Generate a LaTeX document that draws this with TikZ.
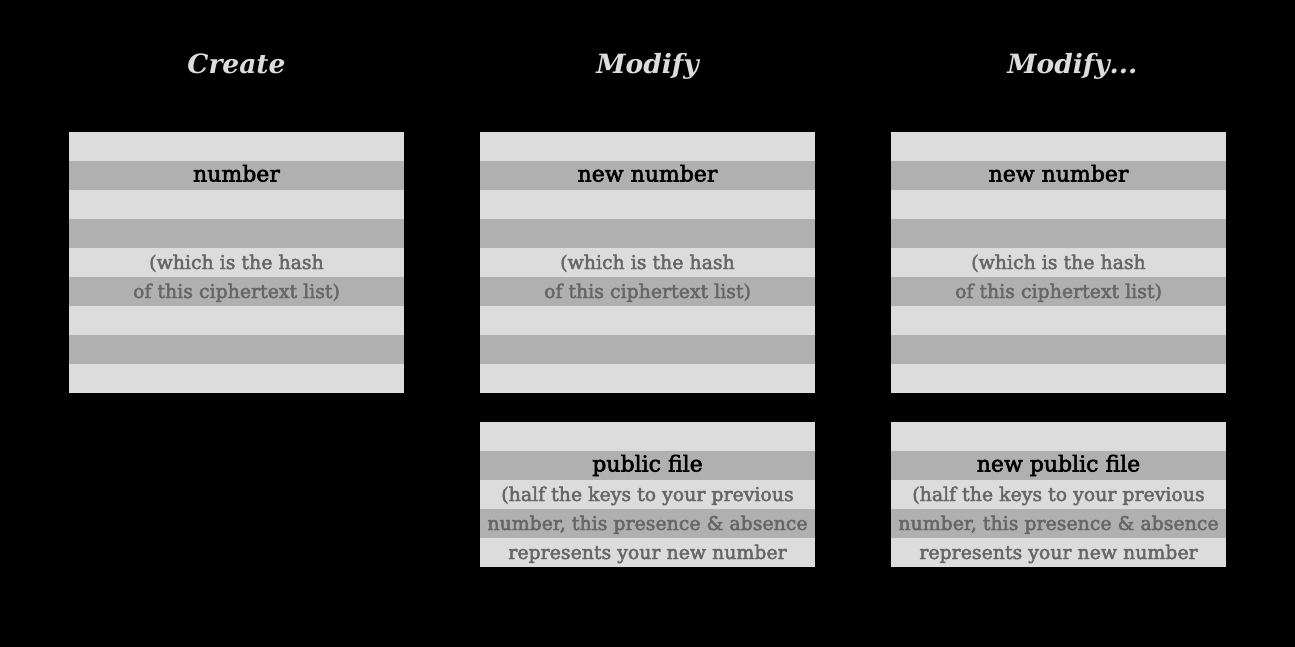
\documentclass[tikz,border=0pt]{standalone}
\usepackage{fontspec}
\setmainfont{DejaVu Serif}
\newfontfamily\lblfont{DejaVu Serif}[FakeBold=2.5]
\definecolor{lite}{HTML}{DCDCDC}
\definecolor{dark}{HTML}{B0B0B0}
\definecolor{gtxt}{HTML}{666666}
\definecolor{ttl}{HTML}{DCDCDC}
\tikzset{
  stripe/.style={minimum width=335pt, minimum height=29pt, inner sep=0pt, outer sep=0pt, draw=none},
  mainlbl/.style={anchor=base, inner sep=0pt, font=\lblfont\fontsize{22}{26}\selectfont, text=black},
  sublbl/.style={anchor=base, inner sep=0pt, font=\lblfont\fontsize{18.9}{22}\selectfont, text=gtxt},
  title/.style={anchor=base, inner sep=0pt, font=\fontsize{26.5}{30}\selectfont\bfseries\itshape, text=ttl}
}
\begin{document}
\begin{tikzpicture}[x=1pt,y=-1pt]
\useasboundingbox (0,0) rectangle (1295,647);
\fill[black] (0,0) rectangle (1295,647);
% upper boxes
\foreach \cx/\cn in {236.5/a,647.5/b,1058.5/c}{
  \foreach \i in {0,...,8}{
    \ifodd\i\def\fc{dark}\else\def\fc{lite}\fi
    \node[stripe, fill=\fc] (\cn\i) at (\cx,146.5+29*\i) {};
  }
}
% lower boxes
\foreach \cx/\cn in {647.5/lb,1058.5/lc}{
  \foreach \i in {0,...,4}{
    \ifodd\i\def\fc{dark}\else\def\fc{lite}\fi
    \node[stripe, fill=\fc] (\cn\i) at (\cx,436.5+29*\i) {};
  }
}
% titles
\node[title] (tA) at (236.5,73.5) {Create};
\node[title] (tB) at (647.5,73.5) {Modify};
\node[title] (tC) at (1058.5,73.5) {Modify\rlap{...}};
% column 1
\node[mainlbl] (ta1) at ([yshift=-6pt]a1.center) {number};
\node[sublbl] (ta4) at ([yshift=-6.5pt]a4.center) {(which is the hash};
\node[sublbl] (ta5) at ([yshift=-6.5pt]a5.center) {of this ciphertext list)};
% column 2
\node[mainlbl] (tb1) at ([yshift=-6pt]b1.center) {new number};
\node[sublbl] (tb4) at ([yshift=-6.5pt]b4.center) {(which is the hash};
\node[sublbl] (tb5) at ([yshift=-6.5pt]b5.center) {of this ciphertext list)};
\node[mainlbl] (tlb1) at ([yshift=-6pt]lb1.center) {public file};
\node[sublbl] (tlb2) at ([yshift=-6.5pt]lb2.center) {(half the keys to your previous};
\node[sublbl] (tlb3) at ([yshift=-6.5pt]lb3.center) {number, this presence \& absence};
\node[sublbl] (tlb4) at ([yshift=-6.5pt]lb4.center) {represents your new number};
% column 3
\node[mainlbl] (tc1) at ([yshift=-6pt]c1.center) {new number};
\node[sublbl] (tc4) at ([yshift=-6.5pt]c4.center) {(which is the hash};
\node[sublbl] (tc5) at ([yshift=-6.5pt]c5.center) {of this ciphertext list)};
\node[mainlbl] (tlc1) at ([yshift=-6pt]lc1.center) {new public file};
\node[sublbl] (tlc2) at ([yshift=-6.5pt]lc2.center) {(half the keys to your previous};
\node[sublbl] (tlc3) at ([yshift=-6.5pt]lc3.center) {number, this presence \& absence};
\node[sublbl] (tlc4) at ([yshift=-6.5pt]lc4.center) {represents your new number};
\end{tikzpicture}
\end{document}
